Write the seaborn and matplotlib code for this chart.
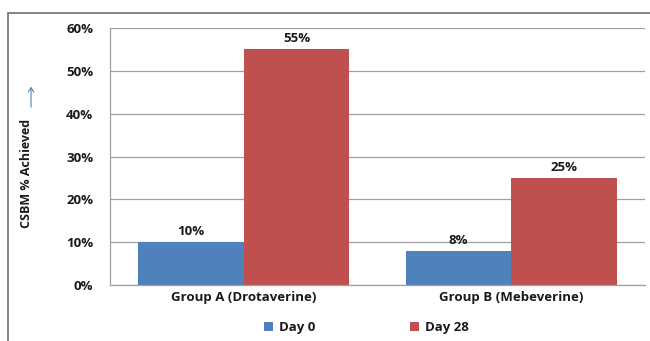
import matplotlib
matplotlib.use("Agg")
import matplotlib.pyplot as plt
import seaborn as sns
import pandas as pd
from matplotlib.lines import Line2D
from matplotlib.patches import FancyArrowPatch

groups = ["Group A (Drotaverine)", "Group B (Mebeverine)"]
day0 = [10, 8]
day28 = [55, 25]
series = ["Day 0", "Day 28"]
yticks = [0, 10, 20, 30, 40, 50, 60]

df = pd.DataFrame({
    "group": groups * 2,
    "value": day0 + day28,
    "series": [series[0]] * 2 + [series[1]] * 2,
})

sns.set_theme(style="white")
plt.rcParams["font.family"] = ["Open Sans", "DejaVu Sans"]

fig = plt.figure(figsize=(6.5, 3.41), dpi=100)
ax = fig.add_axes([110/650, 1 - 285/341, 535/650, 257/341])

palette = {"Day 0": "#4F81BD", "Day 28": "#C0504D"}
sns.barplot(data=df, x="group", y="value", hue="series", palette=palette,
            width=0.79, ax=ax, saturation=1, legend=True, linewidth=0)

fs = 9.5
ax.set_ylim(0, 60)
ax.set_yticks(yticks)
ax.set_yticklabels([f"{t}%" for t in yticks], fontsize=fs, fontweight="bold", color="#1a1a1a")
ax.tick_params(axis="x", labelsize=fs, length=0, pad=4)
ax.tick_params(axis="y", length=0, pad=12)
for lbl in ax.get_xticklabels():
    lbl.set_fontweight("bold")
    lbl.set_color("#1a1a1a")
ax.yaxis.grid(True, color="#a0a0a0", linewidth=0.9)
ax.set_axisbelow(True)
ax.set_xlabel("")
ax.set_ylabel("")
for s in ["top", "right"]:
    ax.spines[s].set_visible(False)
for s in ["left", "bottom"]:
    ax.spines[s].set_color("#a0a0a0")
    ax.spines[s].set_linewidth(0.9)

for cont in ax.containers:
    ax.bar_label(cont, labels=[f"{v:.0f}%" for v in cont.datavalues],
                 padding=3, fontsize=fs, fontweight="bold", color="#1a1a1a")

leg = ax.legend(loc="center", bbox_to_anchor=(0.479, -0.165), ncol=2, frameon=False,
                fontsize=fs, handlelength=0.7, handleheight=0.7, columnspacing=7.2,
                handletextpad=0.4)
for t in leg.get_texts():
    t.set_fontweight("bold")
    t.set_color("#1a1a1a")

fig.text(27/650, 1 - 173/341, "CSBM % Achieved", rotation=90, ha="center", va="center",
         fontsize=9, fontweight="bold", color="#1a1a1a")
fig.add_artist(FancyArrowPatch(
    (31/650, 1 - 110/341), (31/650, 1 - 84/341), transform=fig.transFigure,
    arrowstyle="->,head_length=3,head_width=2", color="#4F81BD", linewidth=0.8))

frame_y = 1 - 13/341
fig.add_artist(Line2D([8/650, 1.0], [frame_y, frame_y], transform=fig.transFigure,
                      color="#707070", linewidth=1.2))
fig.add_artist(Line2D([8/650, 8/650], [0, frame_y], transform=fig.transFigure,
                      color="#707070", linewidth=1.2))

fig.savefig("out.png", dpi=100)
